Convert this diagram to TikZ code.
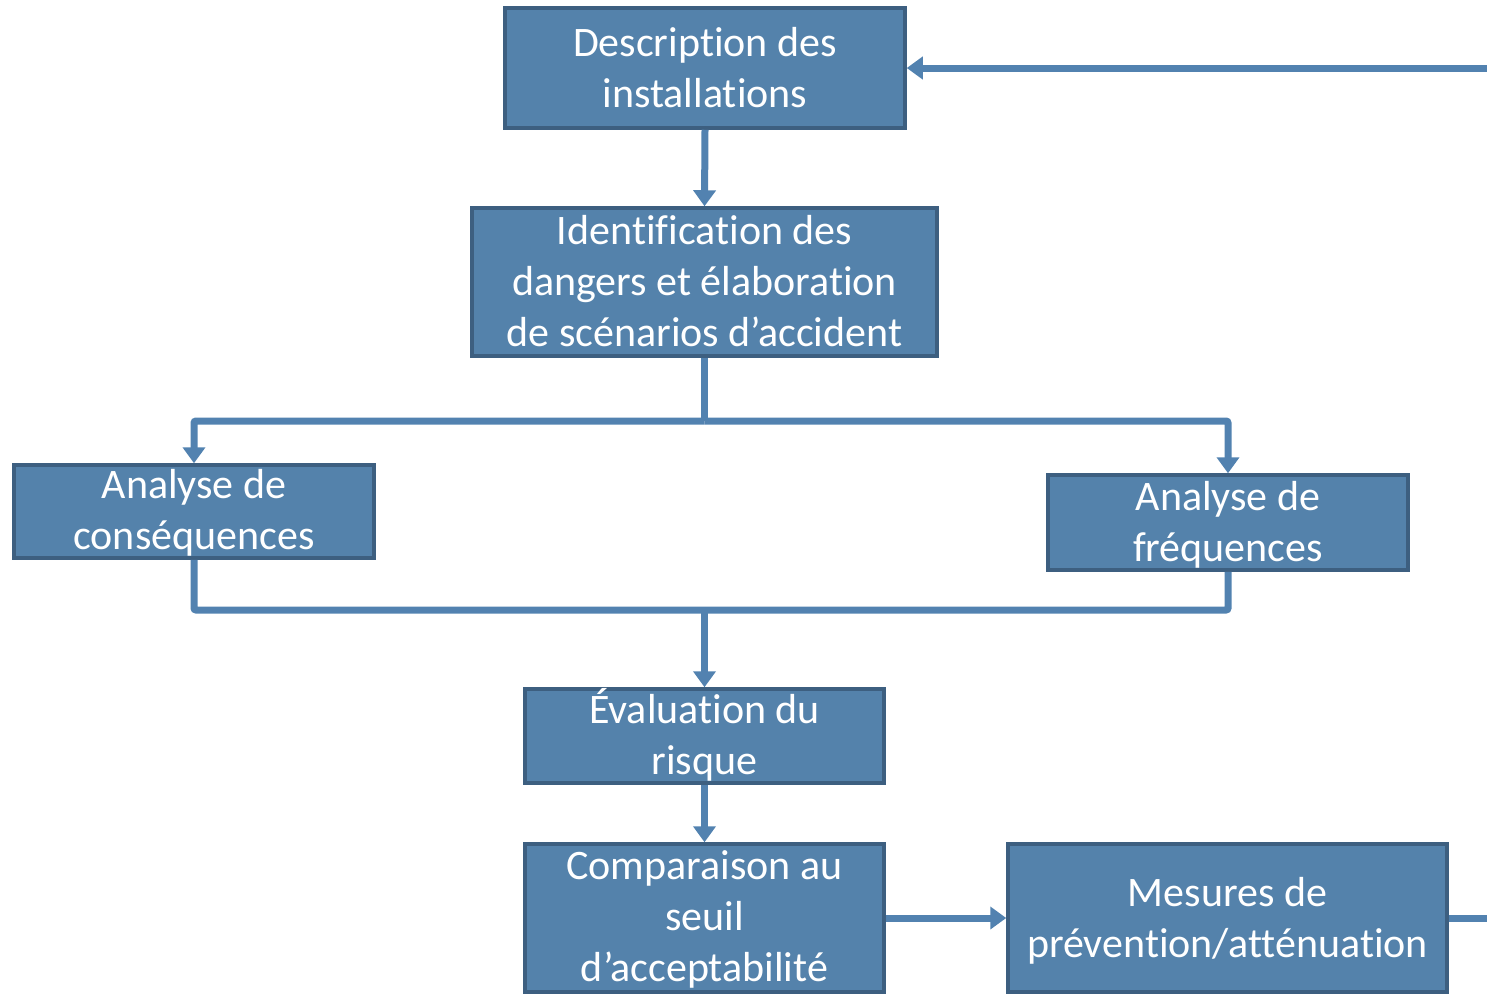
\documentclass[tikz,border=0pt]{standalone}
\usepackage{fontspec}
\setmainfont[Ligatures={NoCommon}]{Carlito}
\usetikzlibrary{arrows.meta,shadows}
\definecolor{boxfill}{HTML}{5482AB}
\definecolor{boxdraw}{HTML}{3D5F80}
\definecolor{linecol}{HTML}{5282B0}
\tikzset{
  x=1pt,y=-1pt,
  box/.style={draw=boxdraw,fill=boxfill,line width=3.5pt,inner sep=0pt,
    drop shadow={shadow xshift=1pt,shadow yshift=-2pt,opacity=0.25}},
  lbl/.style={anchor=base,text=white,align=center,inner sep=0pt,
    font=\fontsize{42}{51}\selectfont},
  conn/.style={draw=linecol,line width=7pt},
  arr/.style={conn,-{Triangle[length=16pt,width=22pt]}},
}
\begin{document}
\begin{tikzpicture}
\useasboundingbox (0,0) rectangle (1487,994);
% boxes
\node[box,minimum width=400pt,minimum height=120pt] (desc) at (705,68) {};
\node[box,minimum width=465pt,minimum height=148pt] (ident) at (704.5,282) {};
\node[box,minimum width=360pt,minimum height=93pt] (cons) at (194,511.5) {};
\node[box,minimum width=360pt,minimum height=95pt] (freq) at (1228,522.5) {};
\node[box,minimum width=359pt,minimum height=94pt] (eval) at (704.5,736) {};
\node[box,minimum width=359pt,minimum height=148pt] (comp) at (704.5,918) {};
\node[box,minimum width=439pt,minimum height=148pt] (mes) at (1227.5,918) {};
% labels (anchored at the baseline of their last line)
\node[lbl] (tdesc) at (705,107) {Description des\\installations};
\node[lbl] (tident) at (704.5,346) {Identification des\\dangers et élaboration\\de scénarios d’accident};
\node[lbl] (tcons) at (194,549) {Analyse de\\conséquences};
\node[lbl] (tfreq) at (1228,561) {Analyse de\\fréquences};
\node[lbl] (teval) at (704.5,774) {Évaluation du\\risque};
\node[lbl] (tcomp) at (704.5,981) {Comparaison au\\seuil\\d’acceptabilité};
\node[lbl] (tmes) at (1227.5,957) {Mesures de\\prévention/atténuation};
% junctions
\coordinate (j1) at (704.5,421);
\coordinate (j2) at (704.5,610);
\coordinate (r) at (1492,918);
% connectors
\draw[arr] (desc.south) -- (ident.north);
\draw[conn] (ident.south) -- (j1);
\draw[arr,rounded corners=2pt] (j1) -| (cons.north);
\draw[arr,rounded corners=2pt] (j1) -| (freq.north);
\draw[conn,rounded corners=2pt] (cons.south) |- (j2) -| (freq.south);
\draw[arr] (j2) -- (eval.north);
\draw[arr] (eval.south) -- (comp.north);
\draw[arr] (comp.east) -- (mes.west);
\draw[arr] (mes.east) -- (r) |- (desc.east);
\end{tikzpicture}
\end{document}
